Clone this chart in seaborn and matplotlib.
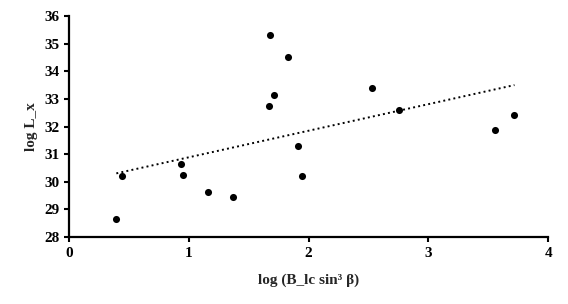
import numpy as np
import pandas as pd
import seaborn as sns
import matplotlib.pyplot as plt

# values
log_b = [1.680, 1.831, 1.715, 1.670, 1.910, 2.533, 2.758, 3.560, 3.719, 1.943,
         0.445, 0.395, 0.938, 0.952, 1.163, 1.370]
log_lx = [35.30, 34.51, 33.13, 32.75, 31.30, 33.39, 32.59, 31.87, 32.41, 30.22,
          30.20, 28.65, 30.64, 30.25, 29.62, 29.46]
x_ticks = [0, 1, 2, 3, 4]
y_ticks = [28, 29, 30, 31, 32, 33, 34, 35, 36]

df = pd.DataFrame({"x": log_b, "y": log_lx})

sns.set_style("white")
plt.rcParams['font.family'] = ['Liberation Serif', 'DejaVu Serif']
plt.rcParams['font.weight'] = 'bold'

fig = plt.figure(figsize=(5.68, 3.04), dpi=100)
ax = fig.add_axes([0.1215, 0.2204, 0.8435, 0.7266])

# scatter + linear trendline (OLS over data range)
sns.regplot(data=df, x="x", y="y", ci=None, ax=ax, truncate=True,
            scatter_kws={"s": 26, "color": "black", "alpha": 1, "linewidths": 0, "zorder": 3},
            line_kws={"color": "black", "linestyle": ":", "linewidth": 1.4})

ax.set_xlim(0, 4)
ax.set_ylim(28, 36)
ax.set_xticks(x_ticks)
ax.set_yticks(y_ticks)
ax.set_xlabel("log (B_lc sin³ β)", fontsize=11, fontweight='bold', labelpad=10)
ax.set_ylabel("log L_x", fontsize=11, fontweight='bold', labelpad=4)

for s in ["top", "right"]:
    ax.spines[s].set_visible(False)
for s in ["left", "bottom"]:
    ax.spines[s].set_linewidth(1.6)
    ax.spines[s].set_color("black")
ax.tick_params(axis="both", direction="out", length=3.5, width=1.5,
               labelsize=11, colors="black", left=True, bottom=True)
for lab in ax.get_xticklabels() + ax.get_yticklabels():
    lab.set_fontweight('bold')

fig.savefig("out.png", dpi=100)
